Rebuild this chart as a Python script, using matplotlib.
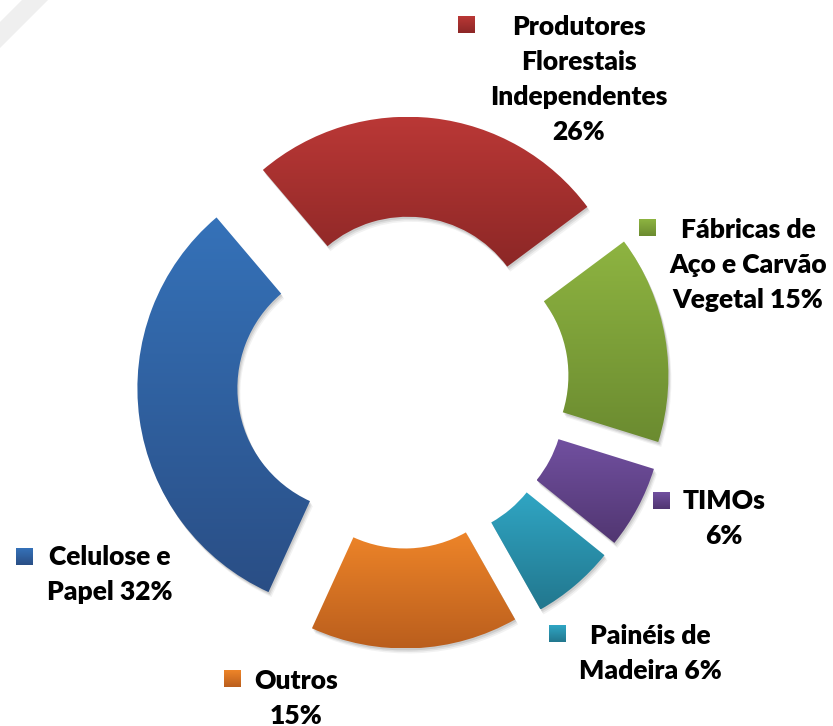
import numpy as np
import matplotlib
matplotlib.use("Agg")
from matplotlib import pyplot as plt
from matplotlib.colors import LinearSegmentedColormap
from matplotlib.patches import Wedge, Rectangle, Polygon

# chart data (clockwise from the top slice)
categories = ["Produtores Florestais Independentes", "Fábricas de Aço e Carvão Vegetal",
              "TIMOs", "Painéis de Madeira", "Outros", "Celulose e Papel"]
shares = [26, 15, 6, 6, 15, 32]

# label lines as they are broken in the picture
label_lines = [
    ["Produtores", "Florestais", "Independentes", "26%"],
    ["Fábricas de", "Aço e Carvão", "Vegetal 15%"],
    ["TIMOs", "6%"],
    ["Painéis de", "Madeira 6%"],
    ["Outros", "15%"],
    ["Celulose e", "Papel 32%"],
]

# gradient colours, top -> bottom
grad_colors = [
    ("#BA3836", "#8C2726"),
    ("#8EB441", "#6B8B30"),
    ("#7150A0", "#513671"),
    ("#30A6C4", "#22778E"),
    ("#EE8529", "#BA5E1D"),
    ("#3572B9", "#2A4E85"),
]

W, H = 833, 726
# label layout in pixel coords (x centre of text, y of first line, square x, square y)
label_pos = [
    (579, 27, 458, 16),
    (748, 230, 639, 219),
    (724, 501, 653, 492),
    (650, 636, 549, 625),
    (296, 681, 224, 670),
    (110, 557, 16, 548),
]
line_step = 35.0


def gradient_fill(ax, patch, top, bottom, z):
    bb = patch.get_path().get_extents(patch.get_patch_transform())
    cmap = LinearSegmentedColormap.from_list("g", [bottom, top])
    grad = np.linspace(0, 1, 256).reshape(-1, 1)
    im = ax.imshow(grad, cmap=cmap, extent=(bb.x0, bb.x1, bb.y0, bb.y1),
                   origin="lower", aspect="auto", zorder=z, interpolation="bilinear")
    im.set_clip_path(patch)


fig = plt.figure(figsize=(W / 100, H / 100), dpi=100)
ax = fig.add_axes([0, 0, 1, 1])

cx, cy = 403, H - 382.5
wedges, _ = ax.pie(shares, startangle=130.3, counterclock=False, radius=224,
                   center=(cx, cy), explode=[42] * len(shares),
                   wedgeprops=dict(width=100, linewidth=0), frame=True)

for w, (top, bottom) in zip(wedges, grad_colors):
    # soft shadow under each slice
    for k, a in zip([5, 3.5, 2], [0.05, 0.07, 0.09]):
        sh = Wedge((w.center[0] + k * 0.6, w.center[1] - k), w.r, w.theta1, w.theta2,
                   width=w.width, facecolor="black", alpha=a, linewidth=0, zorder=1)
        ax.add_patch(sh)
    w.set_facecolor("none")
    w.set_zorder(2)
    gradient_fill(ax, w, top, bottom, 2)

# labels with their colour keys
for lines, (tx, ty, sx, sy), (top, bottom) in zip(label_lines, label_pos, grad_colors):
    sq = Rectangle((sx, H - sy - 17), 17, 17, facecolor="none", linewidth=0)
    ax.add_patch(sq)
    gradient_fill(ax, sq, top, bottom, 3)
    for i, line in enumerate(lines):
        ax.text(tx, H - (ty + i * line_step), line, ha="center", va="center",
                fontsize=19, fontweight="heavy", family="Lato", color="black", zorder=4)

# faint background mark in the top-left corner
ax.add_patch(Polygon([[0, H - 22], [0, H - 48], [48, H], [22, H]],
                     closed=True, facecolor="#EFEFEF", linewidth=0, zorder=0))

ax.set_xlim(0, W)
ax.set_ylim(0, H)
ax.set_aspect("auto")
ax.axis("off")

fig.savefig("out.png", dpi=100)
